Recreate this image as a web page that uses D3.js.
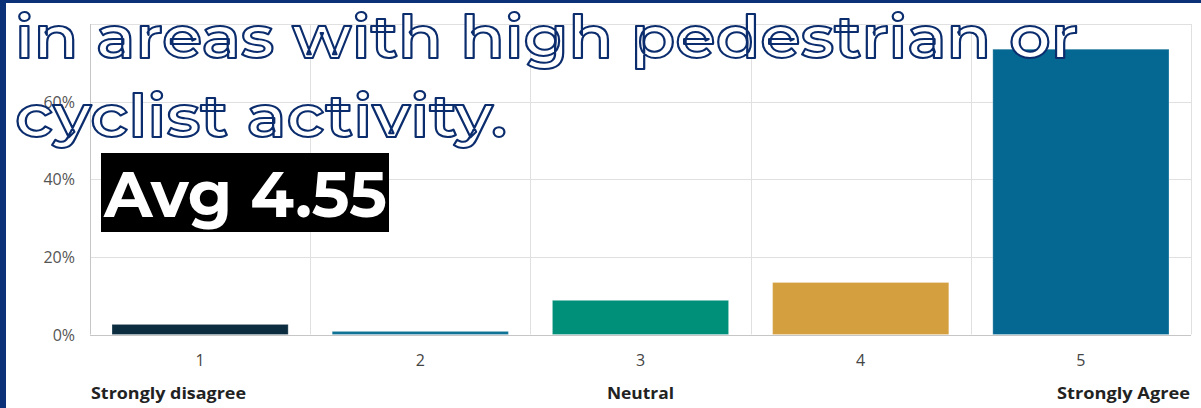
<!DOCTYPE html>
<html>
<head>
<meta charset="utf-8">
<script src="https://cdn.jsdelivr.net/npm/d3@7"></script>
<style>
  html, body { margin: 0; padding: 0; background: #fff; }
  svg { display: block; }
</style>
</head>
<body>
<svg id="chart" width="1201" height="408"></svg>
<script>
// ---- data ----
const categories = ["1", "2", "3", "4", "5"];
const values = [2.6, 0.8, 8.8, 13.4, 73.5];           // percent of responses
const barColors = ["#0b2d3f", "#0f7396", "#00907a", "#d49f3e", "#046892"];
const yTicks = [0, 20, 40, 60, 80];
const yTickLabels = ["0%", "20%", "40%", "60%", ""];
const scaleLabels = [
  { cat: "1", text: "Strongly disagree", anchor: "start", len: 155 },
  { cat: "3", text: "Neutral", anchor: "middle", len: 67 },
  { cat: "5", text: "Strongly Agree", anchor: "end", len: 133 }
];
const titleLines = ["in areas with high pedestrian or", "cyclist activity."];
const avgLabel = "Avg 4.55";

// ---- layout ----
const W = 1201, H = 408;
const plot = { left: 90, right: 1191, top: 24, bottom: 334.5 };
const svg = d3.select("#chart");

svg.append("rect").attr("x", 0).attr("y", 0).attr("width", W).attr("height", H).attr("fill", "#fff");

const x = d3.scaleBand().domain(categories)
  .range([plot.left, plot.right]).paddingInner(0.2).paddingOuter(0.1);
const y = d3.scaleLinear().domain([0, 80]).range([plot.bottom, plot.top]);
const step = x.step();
const bound = c => x(c) - step * 0.1;

// gridlines
const grid = svg.append("g");
grid.selectAll("line.h").data(yTicks).join("line")
  .attr("x1", plot.left).attr("x2", plot.right)
  .attr("y1", d => Math.round(y(d)) + 0.5).attr("y2", d => Math.round(y(d)) + 0.5)
  .attr("stroke", d => d === 0 ? "#c6c6c6" : "#e0e0e0").attr("stroke-width", 1);
const vb = categories.map(bound).concat([plot.right]);
grid.selectAll("line.v").data(vb).join("line")
  .attr("x1", d => Math.round(d) + 0.5).attr("x2", d => Math.round(d) + 0.5)
  .attr("y1", plot.top).attr("y2", plot.bottom)
  .attr("stroke", (d, i) => i === 0 ? "#c6c6c6" : "#e0e0e0").attr("stroke-width", 1);

// bars
svg.append("g").selectAll("rect").data(categories).join("rect")
  .attr("x", c => x(c))
  .attr("width", x.bandwidth())
  .attr("y", (c, i) => y(values[i]))
  .attr("height", (c, i) => y(0) - y(values[i]))
  .attr("fill", (c, i) => barColors[i])
  .attr("stroke", "rgba(255,255,255,0.25)").attr("stroke-width", 1);

// y axis labels
const yAxis = d3.axisLeft(y).tickValues(yTicks).tickSize(0).tickPadding(0)
  .tickFormat((d, i) => yTickLabels[i]);
const gy = svg.append("g").attr("transform", `translate(75,0)`).call(yAxis);
gy.select(".domain").remove();
gy.selectAll("text").attr("font-family", "'Segoe UI', 'Open Sans', sans-serif")
  .attr("font-size", 16).attr("fill", "#555").attr("dy", "0.35em");

// x axis labels
const xAxis = d3.axisBottom(x).tickSize(0).tickPadding(0);
const gx = svg.append("g").attr("transform", `translate(0,${plot.bottom + 20})`).call(xAxis);
gx.select(".domain").remove();
gx.selectAll("text").attr("font-family", "'Segoe UI', 'Open Sans', sans-serif")
  .attr("font-size", 16).attr("fill", "#444").attr("dy", "0.71em");

// scale anchors
svg.append("g").selectAll("text").data(scaleLabels).join("text")
  .attr("x", d => d.anchor === "start" ? bound(d.cat) + 1 : d.anchor === "end" ? plot.right - 1 : x(d.cat) + x.bandwidth() / 2)
  .attr("y", 399)
  .attr("text-anchor", d => d.anchor)
  .attr("textLength", d => d.len).attr("lengthAdjust", "spacingAndGlyphs")
  .attr("font-family", "'Segoe UI', 'Open Sans', sans-serif")
  .attr("font-weight", 700).attr("font-size", 16.5).attr("fill", "#222")
  .text(d => d.text);

// navy frame edges
svg.append("rect").attr("x", 0).attr("y", 0).attr("width", W).attr("height", 3).attr("fill", "#0b3278");
svg.append("rect").attr("x", 0).attr("y", 0).attr("width", 6).attr("height", H).attr("fill", "#0b3278");

// title (outlined text)
const titleLens = [1063, 492];
const titleY = [58, 137];
svg.append("g").selectAll("text").data(titleLines).join("text")
  .attr("x", 15).attr("y", (d, i) => titleY[i])
  .attr("textLength", (d, i) => titleLens[i])
  .attr("lengthAdjust", "spacingAndGlyphs")
  .attr("font-family", "'Montserrat', 'Open Sans', sans-serif")
  .attr("font-weight", 600).attr("font-size", 59)
  .attr("fill", "#fff").attr("stroke", "#0b2d6e").attr("stroke-width", 2)
  .attr("stroke-linejoin", "round")
  .text(d => d);

// average badge
svg.append("rect").attr("x", 101).attr("y", 153).attr("width", 288).attr("height", 79).attr("fill", "#000");
svg.append("text").attr("x", 104).attr("y", 217)
  .attr("textLength", 283).attr("lengthAdjust", "spacingAndGlyphs")
  .attr("font-family", "'Montserrat', 'Open Sans', sans-serif")
  .attr("font-weight", 700).attr("font-size", 63).attr("fill", "#fff")
  .text(avgLabel);
</script>
</body>
</html>
